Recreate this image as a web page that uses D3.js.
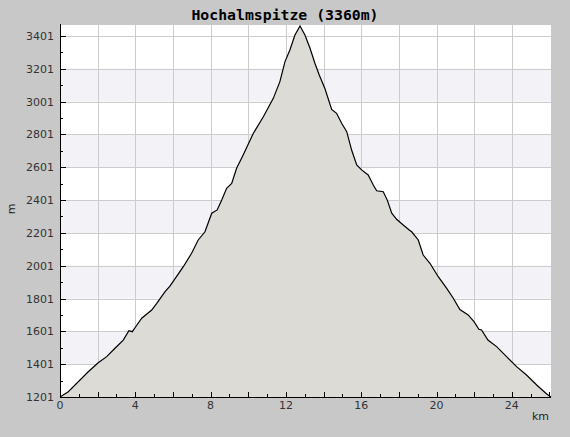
<!DOCTYPE html>
<html>
<head>
<meta charset="utf-8">
<script src="https://cdn.jsdelivr.net/npm/d3@7/dist/d3.min.js"></script>
<style>
  html, body { margin: 0; padding: 0; background: #c8c8c8; }
  svg { display: block; }
</style>
</head>
<body>
<svg id="chart" width="570" height="437"></svg>
<script>
const title = "Hochalmspitze (3360m)";
const distKm = [0, 0.44, 0.97, 1.50, 2.03, 2.48, 2.92, 3.36, 3.66, 3.84, 4.02, 4.34, 4.87, 5.14, 5.58, 5.84,
  6.55, 6.99, 7.34, 7.70, 8.06, 8.35, 8.59, 8.85, 9.12, 9.38, 9.73, 10.27, 10.80, 11.33, 11.68, 11.95,
  12.21, 12.48, 12.75, 13.01, 13.28, 13.54, 13.77, 14.07, 14.43, 14.69, 14.96, 15.23, 15.49, 15.76,
  16.02, 16.37, 16.64, 16.82, 17.17, 17.38, 17.62, 17.88, 18.23, 18.55, 18.68, 19.03, 19.29, 19.65,
  20.09, 20.54, 20.89, 21.24, 21.68, 21.99, 22.25, 22.39, 22.73, 23.19, 23.72, 24.25, 24.78, 25.32,
  25.85, 26.08];
const elevM = [1201, 1233, 1294, 1355, 1410, 1447, 1498, 1548, 1605, 1599, 1629, 1681, 1731, 1772, 1843, 1877,
  1995, 2077, 2158, 2208, 2321, 2341, 2402, 2473, 2503, 2595, 2676, 2808, 2909, 3021, 3123, 3245,
  3316, 3407, 3462, 3407, 3326, 3235, 3163, 3081, 2954, 2930, 2869, 2818, 2706, 2615,
  2585, 2554, 2493, 2458, 2452, 2402, 2321, 2284, 2249, 2219, 2208, 2158, 2066, 2016,
  1934, 1863, 1803, 1734, 1701, 1660, 1614, 1609, 1548, 1508, 1447, 1386, 1335, 1274,
  1219, 1201];
const yTickLabels = [1201, 1401, 1601, 1801, 2001, 2201, 2401, 2601, 2801, 3001, 3201, 3401];
const yMinorTicks = [1301, 1501, 1701, 1901, 2101, 2301, 2501, 2701, 2901, 3101, 3301];
const xTickLabels = [0, 4, 8, 12, 16, 20, 24];
const xMajorTicks = [0, 2, 4, 6, 8, 10, 12, 14, 16, 18, 20, 22, 24, 26];
const xMinorTicks = [1, 3, 5, 7, 9, 11, 13, 15, 17, 19, 21, 23, 25];
const xGrid = [2, 4, 6, 8, 10, 12, 14, 16, 18, 20, 22, 24];
const yMax = 3468;

const data = distKm.map((d, i) => ({ km: d, m: elevM[i] }));

const L = 60, R = 551, T = 25, B = 397;
const svg = d3.select("#chart");
const x = d3.scaleLinear().domain([0, d3.max(distKm)]).range([L, R]);
const y = d3.scaleLinear().domain([1201, yMax]).range([B, T]);

// plot background
svg.append("rect").attr("x", L).attr("y", T).attr("width", R - L).attr("height", B - T).attr("fill", "#ffffff");

// alternating bands
const bands = [];
for (let i = 0; i < yTickLabels.length - 1; i++) {
  if (i % 2 === 1) bands.push([yTickLabels[i], yTickLabels[i + 1]]);
}
svg.append("g").selectAll("rect").data(bands).join("rect")
  .attr("x", L).attr("width", R - L)
  .attr("y", d => y(d[1])).attr("height", d => y(d[0]) - y(d[1]))
  .attr("fill", "#f3f2f6");

// grid lines
const grid = svg.append("g").attr("stroke", "#cccccc").attr("stroke-width", 1).attr("shape-rendering", "crispEdges");
grid.selectAll("line.h").data(yTickLabels.slice(1)).join("line")
  .attr("x1", L).attr("x2", R).attr("y1", d => Math.round(y(d)) + 0.5).attr("y2", d => Math.round(y(d)) + 0.5);
grid.selectAll("line.v").data(xGrid).join("line")
  .attr("y1", T).attr("y2", B).attr("x1", d => Math.round(x(d)) + 0.5).attr("x2", d => Math.round(x(d)) + 0.5);

// area
const area = d3.area().x(d => x(d.km)).y0(B).y1(d => y(d.m));
svg.append("path").datum(data).attr("d", area).attr("fill", "#dcdbd6");
const line = d3.line().x(d => x(d.km)).y(d => y(d.m));
svg.append("path").datum(data).attr("d", line).attr("fill", "none").attr("stroke", "#000").attr("stroke-width", 1.2);

// axes
const axisG = svg.append("g").attr("stroke", "#000").attr("shape-rendering", "crispEdges");
axisG.append("line").attr("x1", L + 0.5).attr("x2", L + 0.5).attr("y1", T - 1).attr("y2", B + 0.5);
axisG.append("line").attr("x1", L).attr("x2", R).attr("y1", B + 0.5).attr("y2", B + 0.5);

axisG.selectAll("line.ym").data(yTickLabels).join("line")
  .attr("x1", L).attr("x2", L + 6).attr("y1", d => Math.round(y(d)) + 0.5).attr("y2", d => Math.round(y(d)) + 0.5);
axisG.selectAll("line.yn").data(yMinorTicks).join("line")
  .attr("x1", L).attr("x2", L + 3).attr("y1", d => Math.round(y(d)) + 0.5).attr("y2", d => Math.round(y(d)) + 0.5);
axisG.selectAll("line.xm").data(xMajorTicks).join("line")
  .attr("y1", B).attr("y2", B - 5).attr("x1", d => Math.round(x(d)) + 0.5).attr("x2", d => Math.round(x(d)) + 0.5);
axisG.selectAll("line.xn").data(xMinorTicks).join("line")
  .attr("y1", B).attr("y2", B - 3).attr("x1", d => Math.round(x(d)) + 0.5).attr("x2", d => Math.round(x(d)) + 0.5);

const font = "DejaVu Sans, sans-serif";
svg.append("g").selectAll("text").data(yTickLabels).join("text")
  .attr("x", 54).attr("y", d => y(d) + 4)
  .attr("text-anchor", "end").attr("font-family", font).attr("font-size", 11).attr("fill", "#333")
  .text(d => d);
svg.append("g").selectAll("text").data(xTickLabels).join("text")
  .attr("x", d => x(d)).attr("y", 409)
  .attr("text-anchor", "middle").attr("font-family", font).attr("font-size", 11).attr("fill", "#333")
  .text(d => d);

svg.append("text").attr("x", 549).attr("y", 420).attr("text-anchor", "end")
  .attr("font-family", font).attr("font-size", 11).attr("fill", "#222").text("km");
svg.append("text").attr("transform", "translate(15,209) rotate(-90)").attr("text-anchor", "middle")
  .attr("font-family", font).attr("font-size", 11).attr("fill", "#222").text("m");

svg.append("text").attr("x", 285).attr("y", 20).attr("text-anchor", "middle")
  .attr("font-family", "DejaVu Sans Mono, monospace").attr("font-weight", "bold").attr("font-size", 14.8)
  .attr("fill", "#000").text(title);
</script>
</body>
</html>
